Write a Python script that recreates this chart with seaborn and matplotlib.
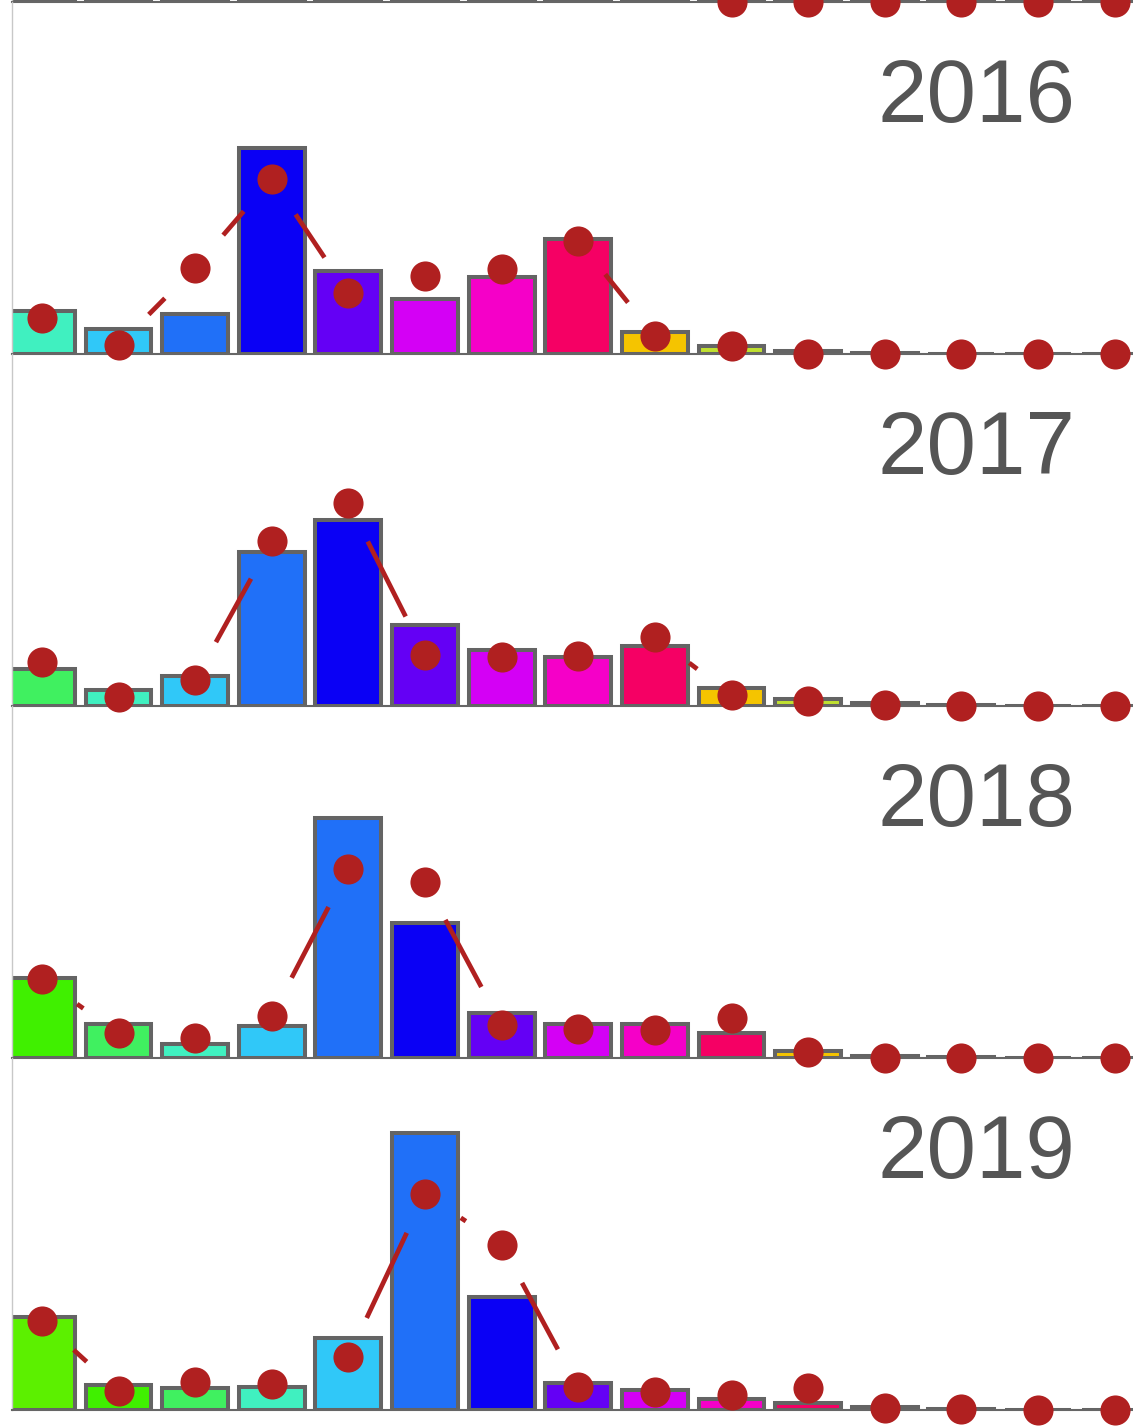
import numpy as np
import pandas as pd
import matplotlib
matplotlib.use("Agg")
import matplotlib.pyplot as plt
import seaborn as sns

# ---- data -------------------------------------------------------------
years = [2015, 2016, 2017, 2018, 2019]
groups = list(range(15))

# bar heights (share, %) per group
bars_2015 = [4.0, 5.5, 26.0, 13.0, 8.5, 12.0, 18.0, 6.0, 3.0, 1.5, 0.5, 0.2, 0.1, 0.05, 0.03]
bars_2016 = [6.2, 3.6, 5.8, 29.9, 12.0, 8.0, 11.2, 16.7, 3.2, 1.2, 0.4, 0.15, 0.07, 0.04, 0.03]
bars_2017 = [5.4, 2.3, 4.3, 22.3, 27.0, 11.7, 8.1, 7.1, 8.7, 2.6, 1.0, 0.4, 0.15, 0.07, 0.04]
bars_2018 = [11.6, 4.9, 2.0, 4.6, 34.8, 19.6, 6.5, 4.9, 4.9, 3.6, 1.0, 0.3, 0.15, 0.07, 0.04]
bars_2019 = [13.5, 3.6, 3.2, 3.3, 10.4, 40.1, 16.4, 3.9, 2.9, 1.6, 1.0, 0.4, 0.2, 0.07, 0.04]

# point values (share, %) per group
points_2015 = [3.5, 8.0, 24.0, 10.0, 9.0, 11.0, 17.0, 5.0, 3.0, 0.0, 0.0, 0.0, 0.0, 0.0, 0.0]
points_2016 = [5.2, 1.3, 12.5, 25.4, 8.8, 11.3, 12.3, 16.4, 2.6, 1.2, 0.0, 0.0, 0.0, 0.0, 0.0]
points_2017 = [6.4, 1.3, 3.8, 23.9, 29.4, 7.4, 7.1, 7.2, 10.0, 1.6, 0.7, 0.1, 0.0, 0.0, 0.0]
points_2018 = [11.4, 3.6, 2.9, 6.1, 27.4, 25.5, 4.8, 4.2, 4.1, 5.8, 0.9, 0.0, 0.0, 0.0, 0.0]
points_2019 = [12.9, 2.8, 4.1, 3.8, 7.7, 31.3, 23.9, 3.3, 2.6, 2.2, 3.2, 0.3, 0.1, 0.0, 0.0]

# one colour per cohort; a bar's cohort is its group shifted by the year
cohort_colors = ["#5CF000", "#40F000", "#40F060", "#40F0C0", "#30C8F8",
                 "#2070F8", "#0A00F5", "#6400F5", "#D400F5", "#F500C8",
                 "#F50064", "#F5C400", "#C0E030", "#5CF000", "#40F000",
                 "#40F060", "#40F0C0", "#30C8F8", "#2070F8"]

bars = {2015: bars_2015, 2016: bars_2016, 2017: bars_2017,
        2018: bars_2018, 2019: bars_2019}
points = {2015: points_2015, 2016: points_2016, 2017: points_2017,
          2018: points_2018, 2019: points_2019}

# ---- style ------------------------------------------------------------
sns.set_theme(style="white")
plt.rcParams["font.family"] = ["Liberation Sans", "DejaVu Sans"]

W, H = 1133, 1428
fig = plt.figure(figsize=(W / 100, H / 100), dpi=100)
fig.patch.set_facecolor("white")

panel_h = 352          # px per panel
left_px = 12
xlim = (-0.39, 14.5)
ylim = (0, 51)
width_px = 1141
dot_color = "#B02020"
gap_px = 43            # line stops this far short of each point

for k, year in enumerate(years):
    base_px = 2 + panel_h * k
    ax = fig.add_axes([left_px / W, (H - base_px) / H, width_px / W, panel_h / H])
    ax.patch.set_alpha(0)

    df = pd.DataFrame({
        "group": groups,
        "share": bars[year],
        "cohort": [g + (years[-1] - year) for g in groups],
    })
    pal = {c: cohort_colors[c] for c in df["cohort"]}
    sns.barplot(data=df, x="group", y="share", hue="cohort", palette=pal,
                dodge=False, legend=False, width=0.86, saturation=1,
                edgecolor="#646464", linewidth=2.9, ax=ax)

    ax.set_xlim(*xlim)
    ax.set_ylim(*ylim)

    sns.scatterplot(x=groups, y=points[year], color=dot_color, s=470,
                    linewidth=0, clip_on=False, zorder=6, ax=ax)

    # connecting line, broken around every point
    xy = ax.transData.transform(np.column_stack([groups, points[year]]))
    inv = ax.transData.inverted()
    for p0, p1 in zip(xy[:-1], xy[1:]):
        d = p1 - p0
        L = np.hypot(*d)
        if L > 2 * gap_px:
            u = d / L
            a, b = inv.transform(np.array([p0 + u * gap_px, p1 - u * gap_px]))
            ax.plot([a[0], b[0]], [a[1], b[1]], color=dot_color, lw=3.4,
                    solid_capstyle="butt", zorder=5)

    ax.set(xticks=[], yticks=[], xlabel="", ylabel="")
    ax.spines["top"].set_visible(False)
    ax.spines["right"].set_visible(False)
    ax.spines["left"].set_color("#c8c8c8")
    ax.spines["left"].set_linewidth(1.0)
    ax.spines["bottom"].set_color("#666666")
    ax.spines["bottom"].set_linewidth(1.5)

    # year label (the top panel's label lies above the figure)
    if base_px >= panel_h:
        ax.text((1075 - left_px) / width_px, 0.659, str(year),
                transform=ax.transAxes, ha="right", va="baseline",
                fontsize=64, color="#555555")

fig.savefig("out.png", dpi=100)
